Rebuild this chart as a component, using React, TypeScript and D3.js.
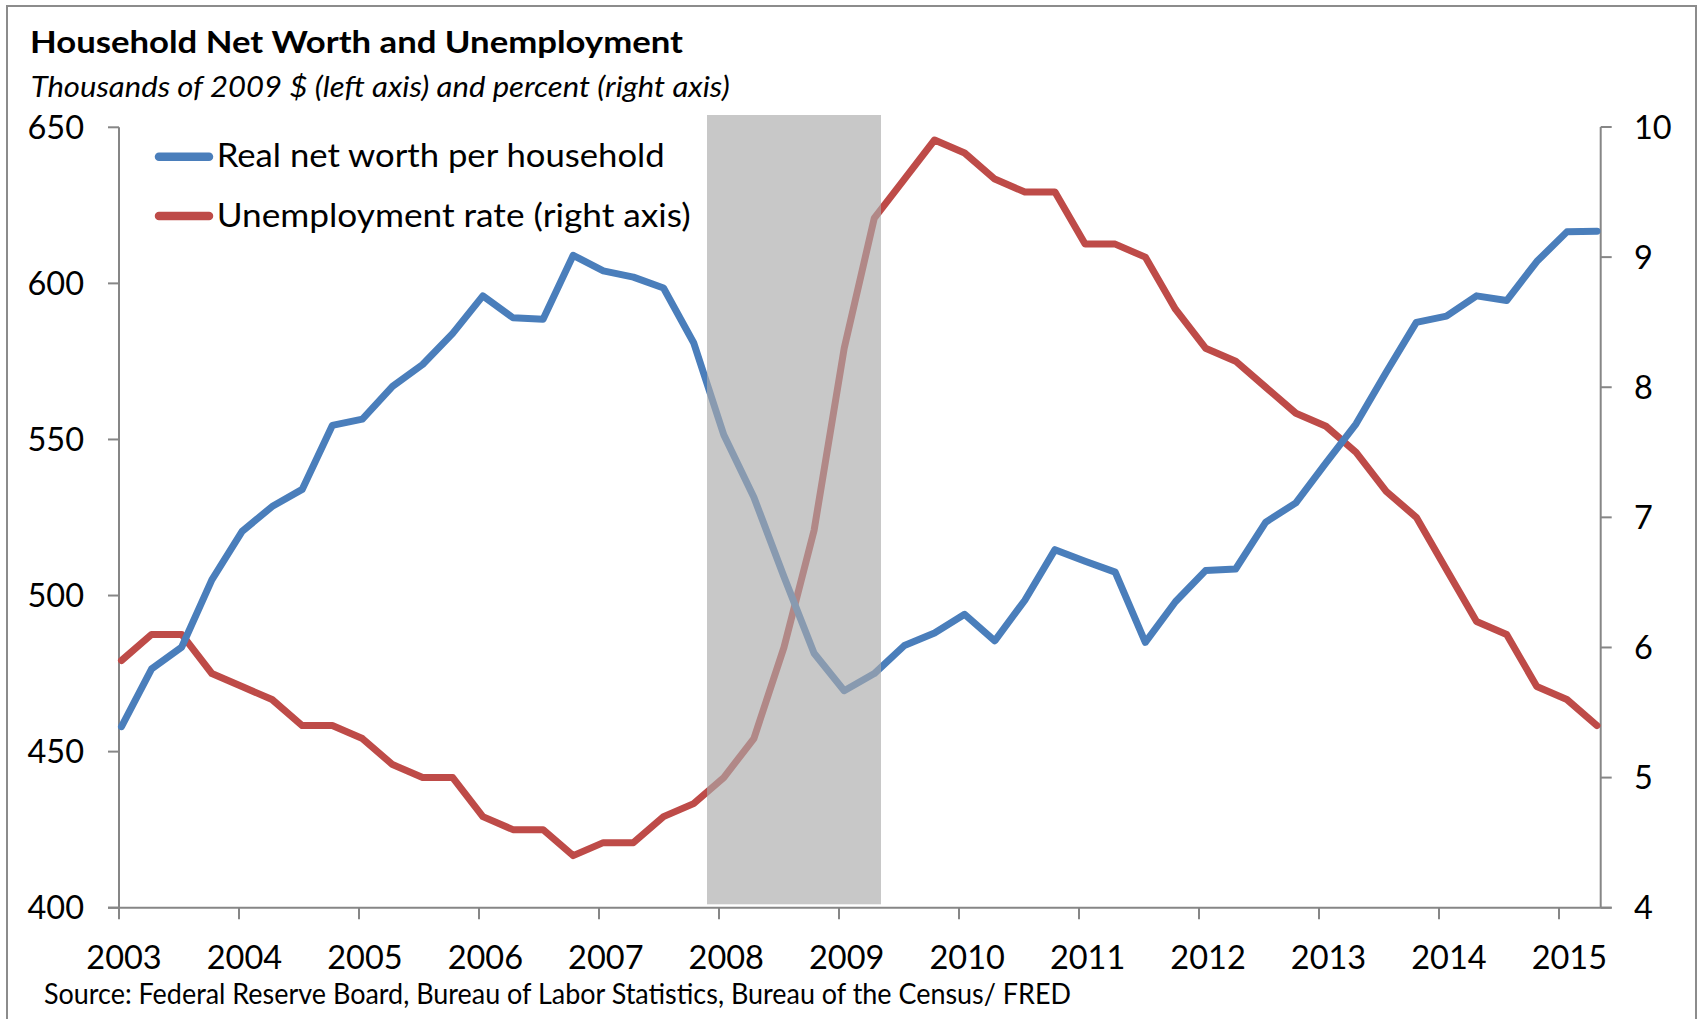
import React, { useEffect } from 'react';
import * as d3 from 'd3';

// quarterly categories, 2003Q1 .. 2015Q2
const quarters: string[] = [];
for (let y = 2003; y <= 2015; y++) {
  for (let q = 1; q <= 4; q++) {
    if (y < 2015 || q <= 2) quarters.push(`${y}Q${q}`);
  }
}

// real net worth per household, thousands of 2009 $
const netWorth = [
  458, 476.5, 483.5, 505, 520.5, 528.5, 534, 554.5, 556.5, 567,
  574, 584, 596, 589, 588.5, 609, 604, 602, 598.5, 581,
  551.5, 531.5, 506, 481.5, 469.5, 475, 484, 488, 494, 485.5,
  498.5, 514.7, 511, 507.5, 485, 498, 508, 508.5, 523.5, 529.7,
  542.5, 555, 571.5, 587.5, 589.5, 596, 594.5, 607, 616.5, 616.7,
];

// unemployment rate, percent
const unemployment = [
  5.9, 6.1, 6.1, 5.8, 5.7, 5.6, 5.4, 5.4, 5.3, 5.1,
  5.0, 5.0, 4.7, 4.6, 4.6, 4.4, 4.5, 4.5, 4.7, 4.8,
  5.0, 5.3, 6.0, 6.9, 8.3, 9.3, 9.6, 9.9, 9.8, 9.6,
  9.5, 9.5, 9.1, 9.1, 9.0, 8.6, 8.3, 8.2, 8.0, 7.8,
  7.7, 7.5, 7.2, 7.0, 6.6, 6.2, 6.1, 5.7, 5.6, 5.4,
];

const leftTicks = [400, 450, 500, 550, 600, 650];
const rightTicks = [4, 5, 6, 7, 8, 9, 10];
const yearTicks = d3.range(2003, 2016);
const recession = [2007.9, 2009.35];

const W = 1701, H = 1019;
const plotL = 119, plotR = 1600.7, plotT = 127.3, plotB = 907.7;
const FONT = 'Lato, "Open Sans", sans-serif';
const AXIS = '#868686';
const BLUE = '#4a7ebb';
const RED = '#be4b48';

const App = () => {
  useEffect(() => {
    document.body.style.margin = '0';
  }, []);

  const xYear = d3.scaleLinear().domain([2003, 2015]).range([plotL, 1559]);
  const xQ = d3.scalePoint<string>().domain(quarters).range([121.5, 1597]);
  const yLeft = d3.scaleLinear().domain([400, 650]).range([plotB, plotT]);
  const yRight = d3.scaleLinear().domain([4, 10]).range([plotB, 127]);

  const lineLeft = d3.line<number>()
    .x((d, i) => xQ(quarters[i]) as number)
    .y((d) => yLeft(d));
  const lineRight = d3.line<number>()
    .x((d, i) => xQ(quarters[i]) as number)
    .y((d) => yRight(d));

  const legend = [
    { label: 'Real net worth per household', color: BLUE, width: 448 },
    { label: 'Unemployment rate (right axis)', color: RED, width: 474 },
  ];

  return (
    <svg width={W} height={H} style={{ display: 'block', background: '#fff' }}>
      <rect x={7} y={6} width={1689} height={1030} fill="#fff" stroke="#8c8c8c" strokeWidth={2} />

      <text x={30} y={53.3} fontFamily={FONT} fontWeight="bold" fontSize={30.3}
        textLength={653} lengthAdjust="spacingAndGlyphs">Household Net Worth and Unemployment</text>
      <text x={30.7} y={96.7} fontFamily={FONT} fontStyle="italic" fontSize={29}
        textLength={699} lengthAdjust="spacingAndGlyphs">Thousands of 2009 $ (left axis) and percent (right axis)</text>

      {/* axes */}
      <g stroke={AXIS} strokeWidth={2}>
        <line x1={plotL} x2={plotL} y1={plotT} y2={plotB} />
        <line x1={plotR} x2={plotR} y1={yRight(10)} y2={plotB} />
        <line x1={plotL - 11} x2={plotR + 11} y1={plotB} y2={plotB} />
        {leftTicks.map((t) => (
          <line key={'lt' + t} x1={plotL - 11} x2={plotL} y1={yLeft(t)} y2={yLeft(t)} />
        ))}
        {rightTicks.map((t) => (
          <line key={'rt' + t} x1={plotR} x2={plotR + 11} y1={yRight(t)} y2={yRight(t)} />
        ))}
        {yearTicks.map((y) => (
          <line key={'xt' + y} x1={xYear(y)} x2={xYear(y)} y1={plotB} y2={plotB + 11.6} />
        ))}
      </g>

      <g fontFamily={FONT} fontSize={32.5} fill="#000">
        {leftTicks.map((t) => (
          <text key={'ll' + t} x={84} y={yLeft(t) + 11.5} textAnchor="end">{t}</text>
        ))}
        {rightTicks.map((t) => (
          <text key={'rl' + t} x={1634} y={yRight(t) + 11.5}>{t}</text>
        ))}
        {yearTicks.map((y) => (
          <text key={'xl' + y} x={(xQ(`${y}Q1`) as number) + 2.5} y={969.3} textAnchor="middle">{y}</text>
        ))}
      </g>

      {/* series */}
      <path d={lineRight(unemployment) || ''} fill="none" stroke={RED} strokeWidth={7} strokeLinejoin="round" strokeLinecap="round" />
      <path d={lineLeft(netWorth) || ''} fill="none" stroke={BLUE} strokeWidth={7} strokeLinejoin="round" strokeLinecap="round" />

      {/* recession shading, drawn over the lines */}
      <rect x={xYear(recession[0])} y={plotT - 12.3} width={xYear(recession[1]) - xYear(recession[0])}
        height={plotB - 3.4 - (plotT - 12.3)} fill="rgb(170,170,170)" fillOpacity={0.646} />

      {/* legend */}
      {legend.map((l, i) => (
        <g key={l.label} transform={`translate(0, ${156.7 + i * 59.2})`}>
          <line x1={159} x2={209} y1={0} y2={0} stroke={l.color} strokeWidth={8.5} strokeLinecap="round" />
          <text x={216.7} y={10.6} fontFamily={FONT} fontSize={32.5}
            textLength={l.width} lengthAdjust="spacingAndGlyphs">{l.label}</text>
        </g>
      ))}

      <text x={44} y={1004} fontFamily={FONT} fontSize={28}
        textLength={1027} lengthAdjust="spacingAndGlyphs">Source: Federal Reserve Board, Bureau of Labor Statistics, Bureau of the Census/ FRED</text>
    </svg>
  );
};

export default App;
